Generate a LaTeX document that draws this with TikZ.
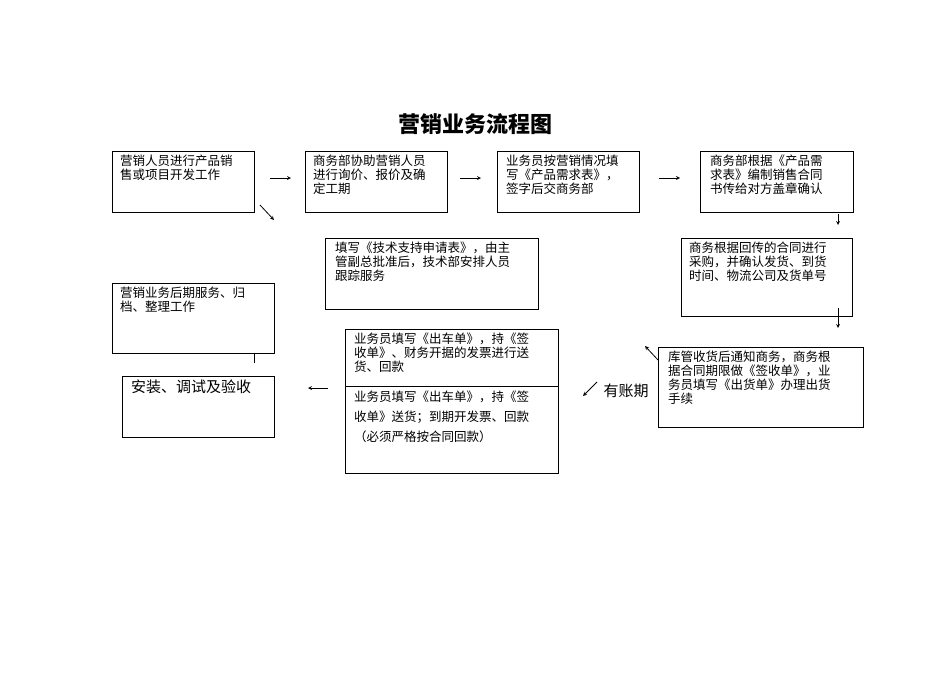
\documentclass[tikz,border=0pt]{standalone}
\usepackage{fontspec}
\newfontfamily\cjk{Noto Sans CJK SC}
\begin{document}
\begin{tikzpicture}[x=1pt,y=-1pt,
  box/.style={draw, line width=0.8pt, inner sep=0pt, anchor=north west},
  txt/.style={anchor=north west, inner sep=0pt, align=left, font=\cjk\fontsize{12.5}{14}\selectfont},
  arr/.style={-stealth, line width=0.8pt}]
\useasboundingbox (0,0) rectangle (950,672);
\node[font=\cjk\bfseries\fontsize{22}{24}\selectfont] (title) at (475,124) {营销业务流程图};
% boxes
\node[box, minimum width=142, minimum height=61] (A) at (112,151) {};
\node[txt] at (120,155) {营销人员进行产品销\\售或项目开发工作};
\node[box, minimum width=142, minimum height=61] (B) at (305,151) {};
\node[txt] at (313,155) {商务部协助营销人员\\进行询价、报价及确\\定工期};
\node[box, minimum width=142, minimum height=61] (C) at (497,151) {};
\node[txt] at (506,155) {业务员按营销情况填\\写《产品需求表》，\\签字后交商务部};
\node[box, minimum width=153, minimum height=61] (D) at (700,151) {};
\node[txt] at (710,155) {商务部根据《产品需\\求表》编制销售合同\\书传给对方盖章确认};
\node[box, minimum width=213, minimum height=71] (E) at (325,238) {};
\node[txt] at (335,242) {填写《技术支持申请表》，由主\\管副总批准后，技术部安排人员\\跟踪服务};
\node[box, minimum width=171, minimum height=78] (F) at (681,238) {};
\node[txt] at (689,242) {商务根据回传的合同进行\\采购，并确认发货、到货\\时间、物流公司及货单号};
\node[box, minimum width=205, minimum height=80] (G) at (658,347) {};
\node[txt] at (668,351) {库管收货后通知商务，商务根\\据合同期限做《签收单》，业\\务员填写《出货单》办理出货\\手续};
\node[box, minimum width=213, minimum height=57] (H1) at (345,329) {};
\node[txt] at (354,333) {业务员填写《出车单》，持《签\\收单》、财务开据的发票进行送\\货、回款};
\node[box, minimum width=213, minimum height=87] (H2) at (345,386) {};
\node[txt, font=\cjk\fontsize{12.5}{20}\selectfont] at (354,391) {业务员填写《出车单》，持《签\\收单》送货；到期开发票、回款\\（必须严格按合同回款）};
\node[box, minimum width=162, minimum height=70] (I) at (112,283) {};
\node[txt] at (120,287) {营销业务后期服务、归\\档、整理工作};
\node[box, minimum width=152, minimum height=61] (J) at (122,376) {};
\node[txt, font=\cjk\fontsize{15}{17}\selectfont] at (131,380) {安装、调试及验收};
\node[font=\cjk\fontsize{15}{17}\selectfont, inner sep=0pt] (lbl) at (626,391) {有账期};
% arrows
\coordinate (a1) at (270,178); \coordinate (a2) at (291,178);
\draw[arr] (a1) -- (a2);
\coordinate (b1) at (460,178); \coordinate (b2) at (481,178);
\draw[arr] (b1) -- (b2);
\coordinate (c1) at (659,178); \coordinate (c2) at (680,178);
\draw[arr] (c1) -- (c2);
\coordinate (d1) at (260,205); \coordinate (d2) at (274,220);
\draw[arr] (d1) -- (d2);
\coordinate (e1) at (838,214); \coordinate (e2) at (838,225);
\draw[arr] (e1) -- (e2);
\coordinate (f1) at (838,308); \coordinate (f2) at (838,328);
\draw[arr] (f1) -- (f2);
\coordinate (g1) at (658,360); \coordinate (g2) at (645,346);
\draw[arr] (g1) -- (g2);
\coordinate (h1) at (597,382); \coordinate (h2) at (583,396);
\draw[arr] (h1) -- (h2);
\coordinate (i1) at (328,388); \coordinate (i2) at (308,388);
\draw[arr] (i1) -- (i2);
\draw[line width=0.8pt] (254,353) -- (254,363);
\end{tikzpicture}
\end{document}
